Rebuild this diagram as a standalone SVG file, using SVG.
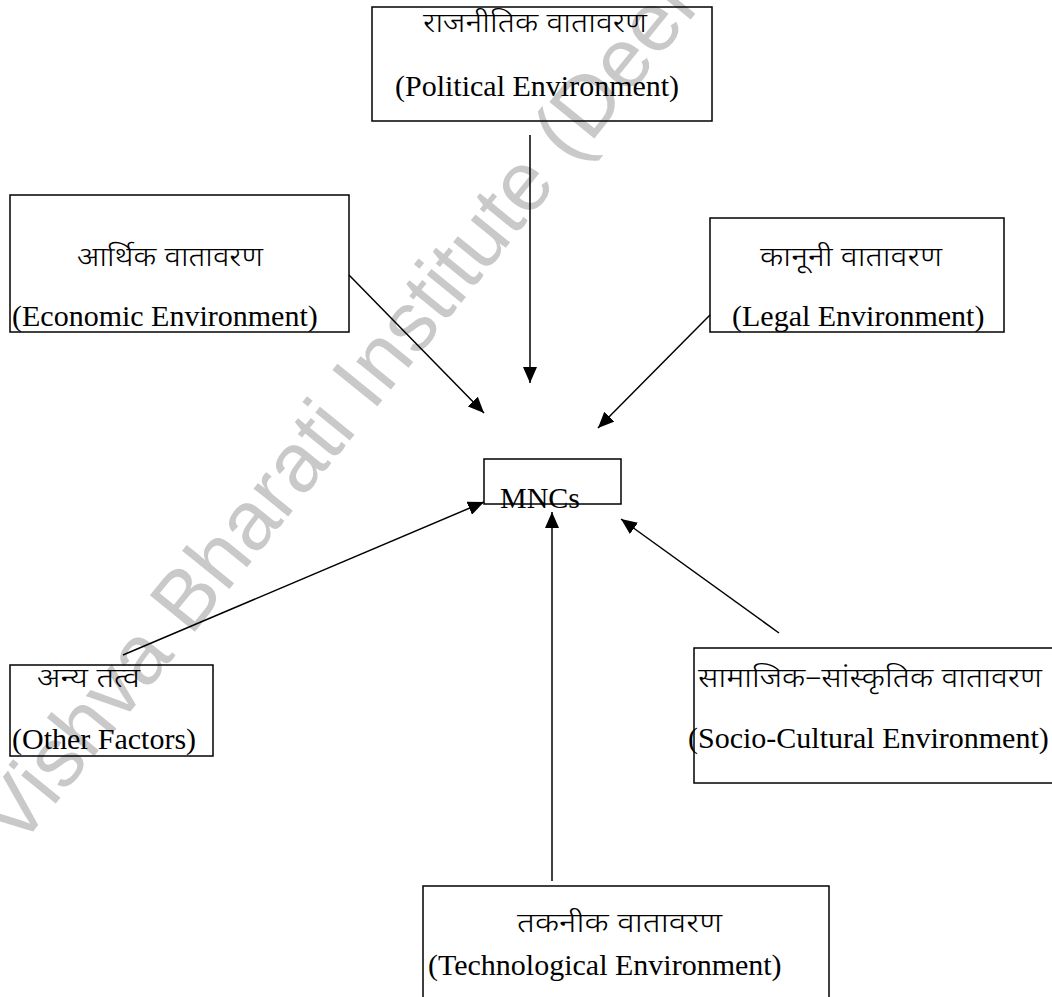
<svg xmlns="http://www.w3.org/2000/svg" width="1052" height="997" viewBox="0 0 1052 997">
<defs>
<marker id="ah" markerUnits="userSpaceOnUse" markerWidth="17" markerHeight="14" refX="16" refY="7" orient="auto">
<path d="M0,0 L16,7 L0,14 Z" fill="#000"/>
</marker>
<style>
.box{fill:none;stroke:#000;stroke-width:1.5}
.en{font-family:"Liberation Serif","Times New Roman",serif;font-size:30px;fill:#000}
.hi{font-family:"Noto Sans Devanagari","Noto Sans","Lohit Devanagari",sans-serif;font-size:27px;font-weight:300;fill:#000}
.con{stroke:#000;stroke-width:1.5;fill:none;marker-end:url(#ah)}
.wm{font-family:"Liberation Sans",Arial,sans-serif;font-size:84px;fill:#c9c9c9}
</style>
</defs>
<rect width="1052" height="997" fill="#fff"/>
<text class="wm" transform="translate(18,850) rotate(-51)">Vishva Bharati Institute (Deemed</text>
<g id="political">
<rect class="box" x="372" y="7" width="340" height="114"/>
<text class="hi" x="423" y="32" textLength="224" lengthAdjust="spacingAndGlyphs">राजनीतिक वातावरण</text>
<text class="en" x="395" y="96">(Political Environment)</text>
</g>
<g id="economic">
<rect class="box" x="10" y="195" width="339" height="137"/>
<text class="hi" x="77" y="266" textLength="186" lengthAdjust="spacingAndGlyphs">आर्थिक वातावरण</text>
<text class="en" x="12" y="326">(Economic Environment)</text>
</g>
<g id="legal">
<rect class="box" x="710" y="218" width="294" height="114"/>
<text class="hi" x="760" y="266" textLength="182" lengthAdjust="spacingAndGlyphs">कानूनी वातावरण</text>
<text class="en" x="732" y="326">(Legal Environment)</text>
</g>
<g id="mncs">
<rect class="box" x="484" y="459" width="137" height="45"/>
<text class="en" x="500" y="508">MNCs</text>
</g>
<g id="other">
<rect class="box" x="10" y="665" width="203" height="91"/>
<text class="hi" x="37" y="687" textLength="103" lengthAdjust="spacingAndGlyphs">अन्य तत्व</text>
<text class="en" x="12" y="749">(Other Factors)</text>
</g>
<g id="socio">
<rect class="box" x="694" y="648" width="370" height="135"/>
<text class="hi" x="698" y="687" textLength="344" lengthAdjust="spacingAndGlyphs">सामाजिक–सांस्कृतिक वातावरण</text>
<text class="en" x="688" y="748">(Socio-Cultural Environment)</text>
</g>
<g id="technological">
<rect class="box" x="423" y="886" width="406" height="130"/>
<text class="hi" x="517" y="932" textLength="205" lengthAdjust="spacingAndGlyphs">तकनीक वातावरण</text>
<text class="en" x="428" y="975">(Technological Environment)</text>
</g>
<g id="connectors">
<line class="con" x1="530" y1="135" x2="530" y2="383"/>
<line class="con" x1="349" y1="275" x2="484" y2="413"/>
<line class="con" x1="710" y1="315" x2="598" y2="428"/>
<line class="con" x1="123" y1="655" x2="484" y2="502"/>
<line class="con" x1="552" y1="881" x2="552" y2="512"/>
<line class="con" x1="779" y1="633" x2="621" y2="519"/>
</g>
</svg>
